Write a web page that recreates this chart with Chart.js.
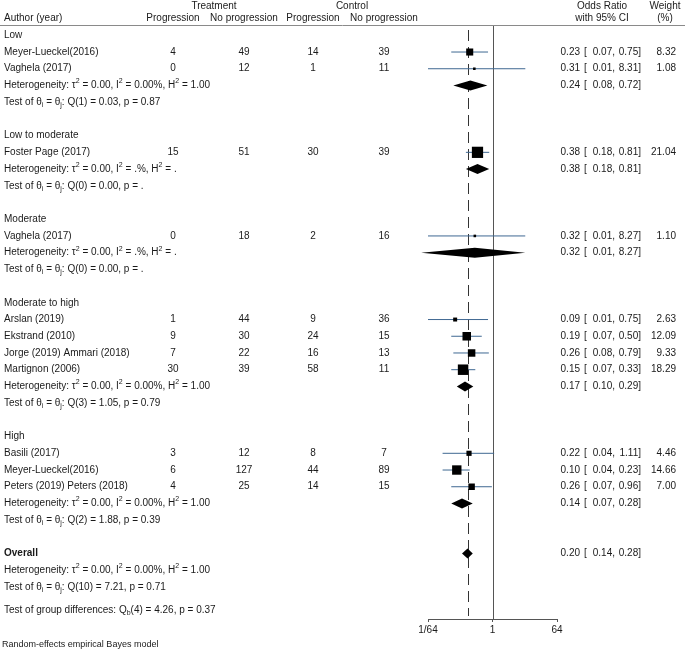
<!DOCTYPE html>
<html>
<head>
<meta charset="utf-8">
<script src="https://cdn.jsdelivr.net/npm/chart.js@4"></script>
<style>
  body { margin: 0; background: #fff; }
  #wrap { width: 685px; height: 652px; position: relative; }
</style>
</head>
<body>
<div id="wrap"><canvas id="forest"></canvas></div>
<script>
// Study rows (row index counts down from the first subgroup heading)
const studyNames = ['Meyer-Lueckel(2016)', 'Vaghela (2017)', 'Foster Page (2017)', 'Vaghela (2017)',
    'Arslan (2019)', 'Ekstrand (2010)', 'Jorge (2019) Ammari (2018)', 'Martignon (2006)',
    'Basili (2017)', 'Meyer-Lueckel(2016)', 'Peters (2019) Peters (2018)'];
const studyRows = [1, 2, 7, 12, 17, 18, 19, 20, 25, 26, 27];
const treatProg = [4, 0, 15, 0, 1, 9, 7, 30, 3, 6, 4];
const treatNoProg = [49, 12, 51, 18, 44, 30, 22, 39, 12, 127, 25];
const ctrlProg = [14, 1, 30, 2, 9, 24, 16, 58, 8, 44, 14];
const ctrlNoProg = [39, 11, 39, 16, 36, 15, 13, 11, 7, 89, 15];
const studyOR = [0.23, 0.31, 0.38, 0.32, 0.09, 0.19, 0.26, 0.15, 0.22, 0.10, 0.26];
const studyLo = [0.07, 0.01, 0.18, 0.01, 0.01, 0.07, 0.08, 0.07, 0.04, 0.04, 0.07];
const studyHi = [0.75, 8.31, 0.81, 8.27, 0.75, 0.50, 0.79, 0.33, 1.11, 0.23, 0.96];
const studyWeight = [8.32, 1.08, 21.04, 1.10, 2.63, 12.09, 9.33, 18.29, 4.46, 14.66, 7.00];

// Subgroups
const groupNames = ['Low', 'Low to moderate', 'Moderate', 'Moderate to high', 'High'];
const groupRows = [0, 6, 11, 16, 24];
const groupSummaryRows = [3, 8, 13, 21, 28];
const groupOR = [0.24, 0.38, 0.32, 0.17, 0.14];
const groupLo = [0.08, 0.18, 0.01, 0.10, 0.07];
const groupHi = [0.72, 0.81, 8.27, 0.29, 0.28];
const groupHet = [
    'Heterogeneity: \u03c4^{2} = 0.00, I^{2} = 0.00%, H^{2} = 1.00',
    'Heterogeneity: \u03c4^{2} = 0.00, I^{2} = .%, H^{2} = .',
    'Heterogeneity: \u03c4^{2} = 0.00, I^{2} = .%, H^{2} = .',
    'Heterogeneity: \u03c4^{2} = 0.00, I^{2} = 0.00%, H^{2} = 1.00',
    'Heterogeneity: \u03c4^{2} = 0.00, I^{2} = 0.00%, H^{2} = 1.00'];
const groupTest = ['Q(1) = 0.03, p = 0.87', 'Q(0) = 0.00, p = .', 'Q(0) = 0.00, p = .',
    'Q(3) = 1.05, p = 0.79', 'Q(2) = 1.88, p = 0.39'];

// Overall
const overallRow = 31;
const overallOR = 0.20, overallLo = 0.14, overallHi = 0.28;
const overallHet = 'Heterogeneity: \u03c4^{2} = 0.00, I^{2} = 0.00%, H^{2} = 1.00';
const overallTest = 'Q(10) = 7.21, p = 0.71';
const groupDiffText = 'Test of group differences: Q_{b}(4) = 4.26, p = 0.37';
const groupDiffRow = 34.37;
const footNote = 'Random-effects empirical Bayes model';

// x axis
const xTickValues = [1 / 64, 1, 64];
const xTickLabels = ['1/64', '1', '64'];

const FONT = '"Liberation Sans", Arial, sans-serif';
const TEXT = '#1a1a1a';
const CI_COLOR = '#3f6892';

// Column centres for the count table
const colX = [173, 244, 313, 384];

function drawRich(ctx, str, x, y, bold) {
    const parts = str.split(/(\^\{[^}]*\}|_\{[^}]*\})/);
    let cx = x;
    parts.forEach(p => {
        if (!p) return;
        let t = p, size = 10, dy = 0;
        if (p.startsWith('^{')) { t = p.slice(2, -1); size = 7; dy = -4; }
        else if (p.startsWith('_{')) { t = p.slice(2, -1); size = 7; dy = 3; }
        ctx.font = (bold ? 'bold ' : '') + size + 'px ' + FONT;
        ctx.fillText(t, cx, y + dy);
        cx += ctx.measureText(t).width;
    });
}

function drawCI(ctx, x, y, est, lo, hi) {
    ctx.textAlign = 'right';
    ctx.fillText(est.toFixed(2), x + 19, y);
    ctx.textAlign = 'left';
    ctx.fillText('[', x + 23, y);
    ctx.textAlign = 'right';
    ctx.fillText(lo.toFixed(2) + ',', x + 54, y);
    ctx.fillText(hi.toFixed(2) + ']', x + 80, y);
}

const forestPlugin = {
    id: 'forest',
    beforeDatasetsDraw(chart) {
        const { ctx, chartArea, scales: { x } } = chart;
        ctx.save();
        // line of no effect
        const x1 = Math.round(x.getPixelForValue(1)) + 0.5;
        ctx.strokeStyle = '#555';
        ctx.lineWidth = 1;
        ctx.beginPath();
        ctx.moveTo(x1, chartArea.top);
        ctx.lineTo(x1, chartArea.bottom);
        ctx.stroke();
        // overall estimate
        const xo = Math.round(x.getPixelForValue(overallOR)) + 0.5;
        ctx.strokeStyle = '#333';
        ctx.setLineDash([11, 6]);
        ctx.beginPath();
        ctx.moveTo(xo, chartArea.top + 5);
        ctx.lineTo(xo, chartArea.bottom - 3);
        ctx.stroke();
        ctx.restore();
    },
    afterDatasetsDraw(chart) {
        const { ctx, scales: { x, y } } = chart;
        ctx.save();
        ctx.fillStyle = '#000';
        const diamond = (row, est, lo, hi) => {
            const py = y.getPixelForValue(row);
            ctx.beginPath();
            ctx.moveTo(x.getPixelForValue(lo), py);
            ctx.lineTo(x.getPixelForValue(est), py - 5);
            ctx.lineTo(x.getPixelForValue(hi), py);
            ctx.lineTo(x.getPixelForValue(est), py + 5);
            ctx.closePath();
            ctx.fill();
        };
        groupOR.forEach((v, i) => diamond(groupSummaryRows[i], v, groupLo[i], groupHi[i]));
        diamond(overallRow, overallOR, overallLo, overallHi);
        ctx.restore();
    },
    afterDraw(chart) {
        const { ctx, scales: { y } } = chart;
        ctx.save();
        ctx.fillStyle = TEXT;
        ctx.textBaseline = 'middle';
        ctx.font = '10px ' + FONT;

        // header
        ctx.textAlign = 'center';
        ctx.fillText('Treatment', 214, 6);
        ctx.fillText('Control', 352, 6);
        ctx.fillText('Odds Ratio', 602, 6);
        ctx.fillText('Weight', 665, 6);
        ['Progression', 'No progression', 'Progression', 'No progression'].forEach((t, i) => ctx.fillText(t, colX[i], 18));
        ctx.fillText('with 95% CI', 602, 18);
        ctx.fillText('(%)', 665, 18);
        ctx.textAlign = 'left';
        ctx.fillText('Author (year)', 4, 18);

        ctx.strokeStyle = '#8a8a8a';
        ctx.lineWidth = 1;
        ctx.beginPath();
        ctx.moveTo(0, 25.5);
        ctx.lineTo(685, 25.5);
        ctx.stroke();

        // studies
        studyNames.forEach((name, i) => {
            const py = y.getPixelForValue(studyRows[i]);
            ctx.textAlign = 'left';
            ctx.fillText(name, 4, py);
            ctx.textAlign = 'center';
            [treatProg[i], treatNoProg[i], ctrlProg[i], ctrlNoProg[i]].forEach((n, k) => ctx.fillText(String(n), colX[k], py));
            drawCI(ctx, 561, py, studyOR[i], studyLo[i], studyHi[i]);
            ctx.textAlign = 'right';
            ctx.fillText(studyWeight[i].toFixed(2), 676, py);
        });

        // subgroups
        groupNames.forEach((name, i) => {
            ctx.textAlign = 'left';
            ctx.fillText(name, 4, y.getPixelForValue(groupRows[i]));
            const ph = y.getPixelForValue(groupSummaryRows[i]);
            drawRich(ctx, groupHet[i], 4, ph);
            ctx.font = '10px ' + FONT;
            drawCI(ctx, 561, ph, groupOR[i], groupLo[i], groupHi[i]);
            ctx.textAlign = 'left';
            drawRich(ctx, 'Test of \u03b8_{i} = \u03b8_{j}: ' + groupTest[i], 4, y.getPixelForValue(groupSummaryRows[i] + 1));
        });

        // overall
        ctx.textAlign = 'left';
        drawRich(ctx, 'Overall', 4, y.getPixelForValue(overallRow), true);
        ctx.font = '10px ' + FONT;
        drawCI(ctx, 561, y.getPixelForValue(overallRow), overallOR, overallLo, overallHi);
        ctx.textAlign = 'left';
        drawRich(ctx, overallHet, 4, y.getPixelForValue(overallRow + 1));
        drawRich(ctx, 'Test of \u03b8_{i} = \u03b8_{j}: ' + overallTest, 4, y.getPixelForValue(overallRow + 2));
        drawRich(ctx, groupDiffText, 4, y.getPixelForValue(groupDiffRow));
        ctx.font = '9px ' + FONT;
        ctx.fillText(footNote, 2, 645);
        ctx.restore();
    }
};

const ciData = [];
studyNames.forEach((_, i) => {
    ciData.push({ x: studyLo[i], y: studyRows[i] }, { x: studyHi[i], y: studyRows[i] }, { x: null, y: null });
});

new Chart(document.getElementById('forest'), {
    type: 'scatter',
    data: {
        datasets: [{
            label: 'Studies',
            data: studyOR.map((v, i) => ({ x: v, y: studyRows[i] })),
            pointStyle: 'rect',
            backgroundColor: '#000',
            borderWidth: 0,
            pointRadius: studyWeight.map(w => 2.45 * Math.sqrt(w) / Math.SQRT2),
            pointHoverRadius: studyWeight.map(w => 2.45 * Math.sqrt(w) / Math.SQRT2)
        }, {
            label: 'CI',
            data: ciData,
            showLine: true,
            spanGaps: false,
            borderColor: CI_COLOR,
            borderWidth: 1,
            pointRadius: 0,
            pointHoverRadius: 0
        }]
    },
    options: {
        responsive: true,
        maintainAspectRatio: false,
        animation: false,
        events: [],
        layout: { padding: { left: 428, right: 128, top: 25, bottom: 13 } },
        plugins: { legend: { display: false }, tooltip: { enabled: false } },
        scales: {
            x: {
                type: 'logarithmic',
                min: 1 / 64,
                max: 64,
                afterBuildTicks: s => { s.ticks = xTickValues.map(v => ({ value: v })); },
                afterFit: s => { s.height = 20; },
                ticks: {
                    callback: (v, i) => xTickLabels[i],
                    autoSkip: false,
                    maxRotation: 0,
                    padding: 2,
                    color: TEXT,
                    font: { family: FONT, size: 10 }
                },
                grid: { drawOnChartArea: false, drawTicks: true, tickLength: 3, color: '#555' },
                border: { display: true, color: '#555' }
            },
            y: {
                type: 'linear',
                reverse: true,
                min: -0.616,
                max: 34.91,
                display: false
            }
        }
    },
    plugins: [forestPlugin]
});
</script>
</body>
</html>
